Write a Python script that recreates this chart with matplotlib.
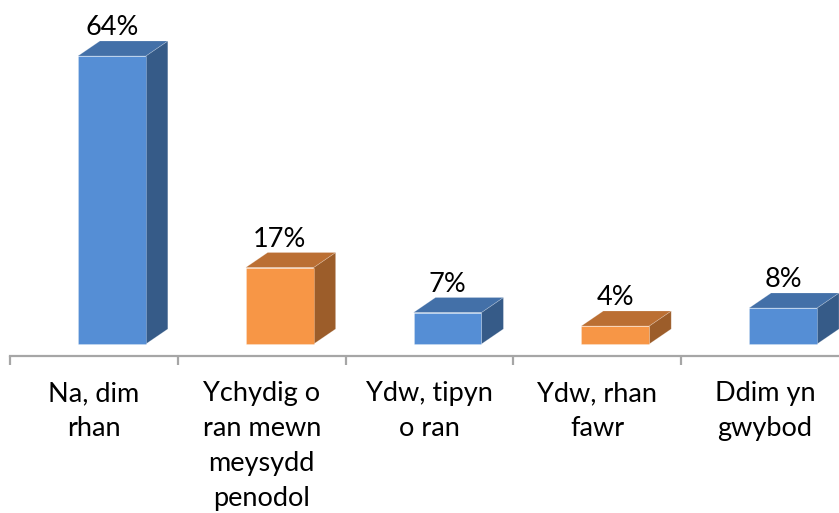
import numpy as np
import matplotlib
matplotlib.use("Agg")
import matplotlib.pyplot as plt
from matplotlib.patches import Polygon

categories = ["Na, dim\nrhan", "Ychydig o\nran mewn\nmeysydd\npenodol",
              "Ydw, tipyn\no ran", "Ydw, rhan\nfawr", "Ddim yn\ngwybod"]
values = [64, 17, 7, 4, 8]
labels = ["64%", "17%", "7%", "4%", "8%"]

# front / side / top colours per bar
blue = ("#558ed5", "#365b88", "#4370a8")
orange = ("#f79646", "#9c5d2a", "#bb6f33")
styles = [blue, orange, blue, orange, blue]

plt.rcParams['font.family'] = ['Lato', 'DejaVu Sans']

W, H = 839, 513
fig = plt.figure(figsize=(W / 100, H / 100), dpi=100)
# axis spans px 10..849 horizontally, 0..356 vertically
ax = fig.add_axes([10 / W, (H - 356) / H, 839 / W, 356 / H])
ax.set_xlim(-0.5, 4.5)
px_per_pct = 4.5
ax.set_ylim(-12 / px_per_pct, 344 / px_per_pct)

x = np.arange(len(values))
shift = 18 / 168      # front face offset to the right of category centre
width = 68 / 168
dx = 22 / 168         # depth, horizontal
dy = 15 / px_per_pct  # depth, vertical

bars = ax.bar(x + shift, values, width=width, bottom=0,
              color=[s[0] for s in styles], edgecolor="#ffffff50",
              linewidth=0.5, zorder=3)

for i, (b, v) in enumerate(zip(bars, values)):
    xl = b.get_x()
    xr = xl + b.get_width()
    side = Polygon([(xr, 0), (xr + dx, dy), (xr + dx, v + dy), (xr, v)],
                   closed=True, facecolor=styles[i][1], edgecolor="#ffffff40",
                   linewidth=0.5, zorder=2, clip_on=False)
    top = Polygon([(xl, v), (xr, v), (xr + dx, v + dy), (xl + dx, v + dy)],
                  closed=True, facecolor=styles[i][2], edgecolor="#ffffff40",
                  linewidth=0.5, zorder=2, clip_on=False)
    ax.add_patch(side)
    ax.add_patch(top)
    ax.annotate(labels[i], (xl + b.get_width() / 2, v + dy), xytext=(0, 4),
                textcoords="offset points", ha="center", va="baseline",
                fontsize=19.5, color="#000000")

for s in ["top", "left", "right"]:
    ax.spines[s].set_visible(False)
ax.spines["bottom"].set_color("#a6a6a6")
ax.spines["bottom"].set_linewidth(1.6)

ax.set_yticks([])
ax.set_xticks(np.arange(-0.5, 5.0, 1.0))
ax.set_xticklabels([])
ax.tick_params(axis="x", which="major", direction="out", length=6.5,
               width=1.6, color="#a6a6a6")
ax.set_xticks(x, minor=True)
ax.set_xticklabels(categories, minor=True, fontsize=19.5, color="#000000",
                   linespacing=1.5)
ax.tick_params(axis="x", which="minor", length=0, pad=18)

fig.savefig("out.png", dpi=100)
